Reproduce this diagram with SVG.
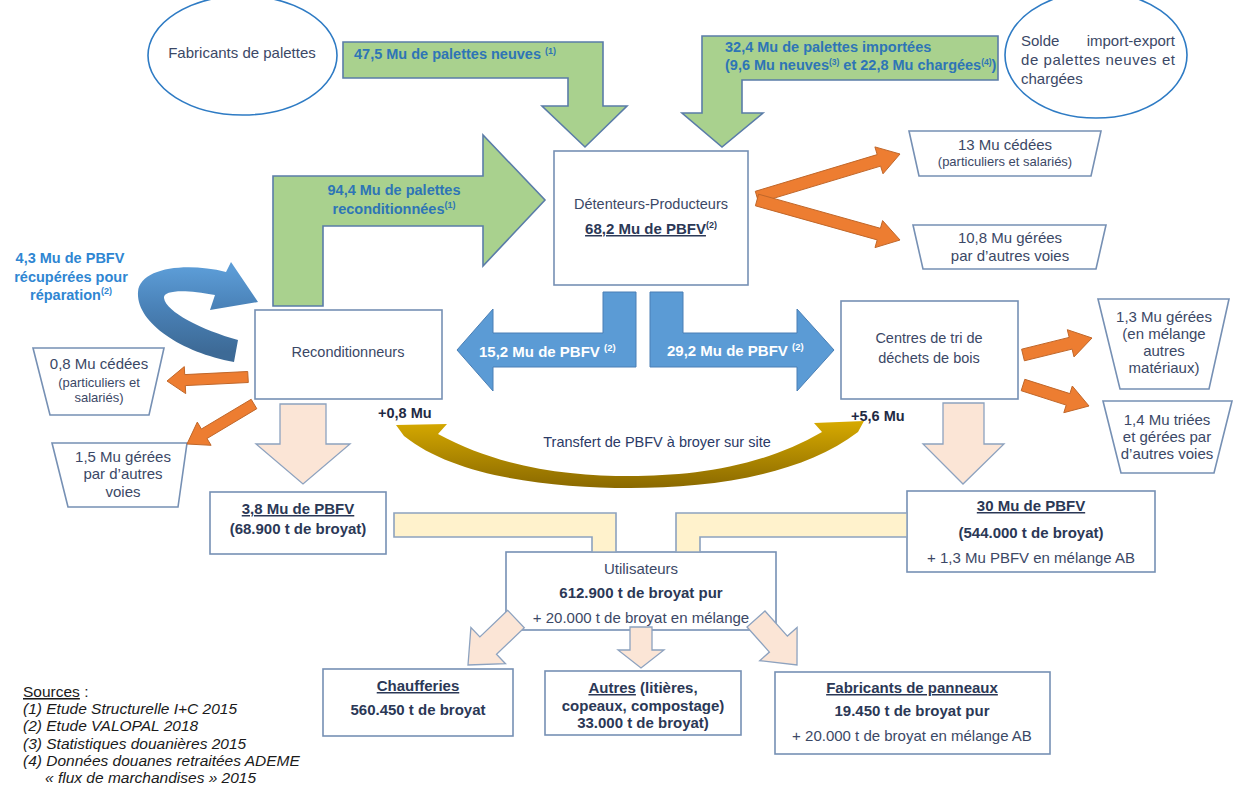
<svg xmlns="http://www.w3.org/2000/svg" width="1237" height="791" viewBox="0 0 1237 791">
<defs>
<linearGradient id="gBlueCurve" gradientUnits="userSpaceOnUse" x1="0" y1="352" x2="0" y2="270">
<stop offset="0" stop-color="#3d6a96"/><stop offset="0.55" stop-color="#4a82b8"/><stop offset="1" stop-color="#5b9bd5"/>
</linearGradient>
<linearGradient id="gGold" gradientUnits="userSpaceOnUse" x1="0" y1="420" x2="0" y2="488">
<stop offset="0" stop-color="#d8ab00"/><stop offset="1" stop-color="#8a6900"/>
</linearGradient>
<style>
text { font-family: "Liberation Sans", Arial, sans-serif; }
.t { fill: #3b4866; font-size: 14.5px; }
.tb { fill: #2b3856; font-size: 15px; font-weight: bold; }
.tr { fill: #3b4866; font-size: 15px; }
.ts { fill: #3b4866; font-size: 13px; }
.gl { fill: #2e75b6; font-size: 14.5px; font-weight: bold; }
.bl { fill: #2f86d2; font-size: 14.5px; font-weight: bold; }
.wl { fill: #ffffff; font-size: 15px; font-weight: bold; }
.src { fill: #1a1a1a; font-size: 15.5px; font-style: italic; }
.box { fill: #ffffff; stroke: #7690b4; stroke-width: 1.6; }
.ell { fill: #ffffff; stroke: #2e7bc4; stroke-width: 1.6; }
.green { fill: #a9d18e; stroke: #5a7ca8; stroke-width: 1.6; }
.blue { fill: #5b9bd5; stroke: #4a7fb5; stroke-width: 1; }
.orange { fill: #ed7d31; stroke: #c0672a; stroke-width: 1; }
.peach { fill: #fbe5d6; stroke: #8da2bf; stroke-width: 1.3; }
.yellow { fill: #fff2cc; stroke: #8da2bf; stroke-width: 1.6; }
</style>
</defs>
<rect x="0" y="0" width="1237" height="791" fill="#ffffff"/>

<g id="fabricants-palettes">
<ellipse class="ell" cx="242.5" cy="55.5" rx="94.5" ry="59.5"/>
<text class="tr" x="242" y="58" text-anchor="middle">Fabricants de palettes</text>
</g>

<g id="solde-import-export">
<ellipse class="ell" cx="1096" cy="55" rx="91" ry="63"/>
<text class="tr" x="1021" y="46">Solde</text>
<text class="tr" x="1175" y="46" text-anchor="end">import-export</text>
<text class="tr" x="1021" y="65" textLength="154" lengthAdjust="spacing">de palettes neuves et</text>
<text class="tr" x="1021" y="84">chargées</text>
</g>

<g id="detenteurs-producteurs">
<rect class="box" x="554" y="151" width="194" height="134"/>
<text class="t" x="651" y="209" text-anchor="middle">Détenteurs-Producteurs</text>
<text class="tb" x="651" y="234" text-anchor="middle"><tspan text-decoration="underline">68,2 Mu de PBFV</tspan><tspan font-size="9" dy="-6">(2)</tspan></text>
</g>

<g id="mu13-cedees">
<polygon class="box" points="909,131 1101,131 1091,176 919,176"/>
<text class="tr" x="1005" y="150" text-anchor="middle">13 Mu cédées</text>
<text class="ts" x="1005" y="166" text-anchor="middle">(particuliers et salariés)</text>
</g>

<g id="mu108-gerees">
<polygon class="box" points="913,225 1106,225 1096,269 923,269"/>
<text class="tr" x="1010" y="243" text-anchor="middle">10,8 Mu gérées</text>
<text class="tr" x="1010" y="261" text-anchor="middle">par d’autres voies</text>
</g>

<g id="reconditionneurs">
<rect class="box" x="255" y="310" width="187" height="89"/>
<text class="t" x="348" y="357" text-anchor="middle">Reconditionneurs</text>
</g>

<g id="centres-tri">
<rect class="box" x="841" y="301" width="177" height="98"/>
<text class="t" x="929" y="343" text-anchor="middle">Centres de tri de</text>
<text class="t" x="929" y="363" text-anchor="middle">déchets de bois</text>
</g>

<g id="mu08-cedees">
<polygon class="box" points="33,348 164,348 149,415 50,415"/>
<text class="tr" x="99" y="369" text-anchor="middle">0,8 Mu cédées</text>
<text class="ts" x="99" y="387" text-anchor="middle">(particuliers et</text>
<text class="ts" x="99" y="402" text-anchor="middle">salariés)</text>
</g>

<g id="mu15-gerees">
<polygon class="box" points="52,443 187,443 178,507 68,507"/>
<text class="tr" x="123" y="462" text-anchor="middle">1,5 Mu gérées</text>
<text class="tr" x="123" y="479" text-anchor="middle">par d’autres</text>
<text class="tr" x="123" y="497" text-anchor="middle">voies</text>
</g>

<g id="mu13-gerees-melange">
<polygon class="box" points="1098,299 1229,299 1209,389 1120,389"/>
<text class="tr" x="1164" y="322" text-anchor="middle">1,3 Mu gérées</text>
<text class="tr" x="1164" y="339" text-anchor="middle">(en mélange</text>
<text class="tr" x="1164" y="356" text-anchor="middle">autres</text>
<text class="tr" x="1164" y="373" text-anchor="middle">matériaux)</text>
</g>

<g id="mu14-triees">
<polygon class="box" points="1103,401 1232,401 1214,473 1121,473"/>
<text class="tr" x="1167" y="425" text-anchor="middle">1,4 Mu triées</text>
<text class="tr" x="1167" y="442" text-anchor="middle">et gérées par</text>
<text class="tr" x="1167" y="459" text-anchor="middle">d’autres voies</text>
</g>

<g id="broyat-reconditionneurs">
<rect class="box" x="210" y="492" width="176" height="62"/>
<text class="tb" x="298" y="514" text-anchor="middle" text-decoration="underline">3,8 Mu de PBFV</text>
<text class="tb" x="298" y="534" text-anchor="middle">(68.900 t de broyat)</text>
</g>

<g id="broyat-centres">
<rect class="box" x="907" y="491" width="248" height="81"/>
<text class="tb" x="1031" y="511" text-anchor="middle" text-decoration="underline">30 Mu de PBFV</text>
<text class="tb" x="1031" y="538" text-anchor="middle">(544.000 t de broyat)</text>
<text class="tr" x="1031" y="563" text-anchor="middle">+ 1,3 Mu PBFV en mélange AB</text>
</g>

<g id="utilisateurs">
<rect class="box" x="506" y="552" width="270" height="78"/>
<text class="tr" x="641" y="574" text-anchor="middle">Utilisateurs</text>
<text class="tb" x="641" y="598" text-anchor="middle">612.900 t de broyat pur</text>
<text class="tr" x="641" y="623" text-anchor="middle">+ 20.000 t de broyat en mélange</text>
</g>

<g id="chaufferies">
<rect class="box" x="323" y="669" width="190" height="67"/>
<text class="tb" x="418" y="691" text-anchor="middle" text-decoration="underline">Chaufferies</text>
<text class="tb" x="418" y="715" text-anchor="middle">560.450 t de broyat</text>
</g>

<g id="autres">
<rect class="box" x="545" y="671" width="196" height="64"/>
<text class="tb" x="643" y="693" text-anchor="middle"><tspan text-decoration="underline">Autres</tspan> (litières,</text>
<text class="tb" x="643" y="711" text-anchor="middle">copeaux, compostage)</text>
<text class="tb" x="643" y="728" text-anchor="middle">33.000 t de broyat)</text>
</g>

<g id="fabricants-panneaux">
<rect class="box" x="775" y="672" width="275" height="82"/>
<text class="tb" x="912" y="693" text-anchor="middle" text-decoration="underline">Fabricants de panneaux</text>
<text class="tb" x="912" y="716" text-anchor="middle">19.450 t de broyat pur</text>
<text class="tr" x="912" y="741" text-anchor="middle">+ 20.000 t de broyat en mélange AB</text>
</g>

<g id="sources">
<text x="23" y="697" fill="#1a1a1a" font-size="15.5"><tspan text-decoration="underline">Sources</tspan> :</text>
<text class="src" x="23" y="714">(1) Etude Structurelle I+C 2015</text>
<text class="src" x="23" y="731">(2) Etude VALOPAL 2018</text>
<text class="src" x="23" y="749">(3) Statistiques douanières 2015</text>
<text class="src" x="23" y="766">(4) Données douanes retraitées ADEME</text>
<text class="src" x="45" y="783">« flux de marchandises » 2015</text>
</g>

<g id="connectors">
<polygon class="green" points="343,42 603,42 603,106 627,106 585,147 542,106 568,106 568,78 343,78"/>
<text class="gl" x="354" y="59">47,5 Mu de palettes neuves <tspan font-size="9" dy="-5">(1)</tspan></text>
<polygon class="green" points="702,36 998,36 998,80 742,80 742,113 763,113 722,147 682,113 702,113"/>
<text class="gl" x="725" y="52">32,4 Mu de palettes importées</text>
<text class="gl" x="725" y="70" font-size="13.5">(9,6 Mu neuves<tspan font-size="8.5" dy="-5">(3)</tspan><tspan dy="5"> et 22,8 Mu chargées</tspan><tspan font-size="8.5" dy="-5">(4)</tspan><tspan dy="5">)</tspan></text>
<polygon class="green" points="273,306 273,176 483,176 483,135 545,200 483,266 483,226 323,226 323,306"/>
<text class="gl" x="394" y="195" text-anchor="middle">94,4 Mu de palettes</text>
<text class="gl" x="394" y="214" text-anchor="middle">reconditionnées<tspan font-size="9" dy="-6">(1)</tspan></text>

<polygon class="blue" points="636,292 636,367 493,367 493,391 457,350 493,309 493,333 603,333 603,292"/>
<text class="wl" x="479" y="357">15,2 Mu de PBFV <tspan font-size="9.5" dy="-6">(2)</tspan></text>
<polygon class="blue" points="650,292 683,292 683,333 797,333 797,309 834,350 797,391 797,367 650,367"/>
<text class="wl" x="667" y="356">29,2 Mu de PBFV <tspan font-size="9.5" dy="-6">(2)</tspan></text>

<path fill="url(#gBlueCurve)" d="M 234,362 C 180,352 136,322 138,292 C 140,268 185,262 226,272 L 231,262 L 258,302 L 210,310 L 215,295 C 185,289 163,290 164,298 C 166,312 202,330 238,340 Z"/>
<text class="bl" x="70" y="263" text-anchor="middle">4,3 Mu de PBFV</text>
<text class="bl" x="71" y="282" text-anchor="middle">récupérées pour</text>
<text class="bl" x="71" y="300" text-anchor="middle">réparation<tspan font-size="9" dy="-6">(2)</tspan></text>

<polygon class="orange" points="758.7,202.8 880.6,166.1 883,173.8 900,154 874.9,146.9 877.2,154.6 755.3,191.3"/>
<polygon class="orange" points="758.6,194.2 880.4,228.3 882.6,220.6 900,240 875,247.6 877.2,239.9 755.4,205.8"/>
<polygon class="orange" points="1024.4,360.8 1072.1,349.1 1074,356.9 1092,338 1067.3,329.7 1069.2,337.4 1021.6,349.2"/>
<polygon class="orange" points="1024.8,379.3 1069.9,393.6 1072.3,386 1089,406 1063.8,412.7 1066.2,405.1 1021.2,390.7"/>
<polygon class="orange" points="247.7,371.5 184.7,374.6 184.3,366.6 167,381 185.7,393.6 185.3,385.6 248.3,382.5"/>
<polygon class="orange" points="251.2,399.3 201.4,429 197.3,422.1 187,444 211.1,445.3 207,438.5 256.8,408.7"/>

<path fill="url(#gGold)" d="M 396,425 L 447,424 L 438,434 C 500,468 570,476 630,476 C 690,476 760,468 822,432 L 814,423 L 864,421 L 858,432 C 800,476 710,488 630,488 C 550,488 455,477 404,436 Z"/>
<text x="378" y="418" fill="#1f2a44" font-size="14.5" font-weight="bold">+0,8 Mu</text>
<text x="851" y="421" fill="#1f2a44" font-size="14.5" font-weight="bold">+5,6 Mu</text>
<text x="657" y="447" fill="#2b3a66" font-size="14.5" text-anchor="middle">Transfert de PBFV à broyer sur site</text>

<polygon class="peach" points="280,404 326,404 326,444 350,444 303,484 256,444 280,444"/>
<polygon class="peach" points="943,403 984,403 984,444 1004,444 963,484 923,444 943,444"/>

<polygon class="yellow" points="394,513 616,513 616,552 592,552 592,537 394,537"/>
<polygon class="yellow" points="676,552 676,513 907,513 907,537 700,537 700,552"/>

<polygon class="peach" points="507.7,610.3 479.9,636.9 470.9,627.6 468,665 505.5,663.7 496.5,654.3 524.3,627.7"/>
<polygon class="peach" points="630,627 652,627 652,650 664,650 641,668 618,650 630,650"/>
<polygon class="peach" points="765,611 787.4,636.1 797.1,627.5 797,665 759.7,660.7 769.4,652.1 747,627"/>
</g>
</svg>
